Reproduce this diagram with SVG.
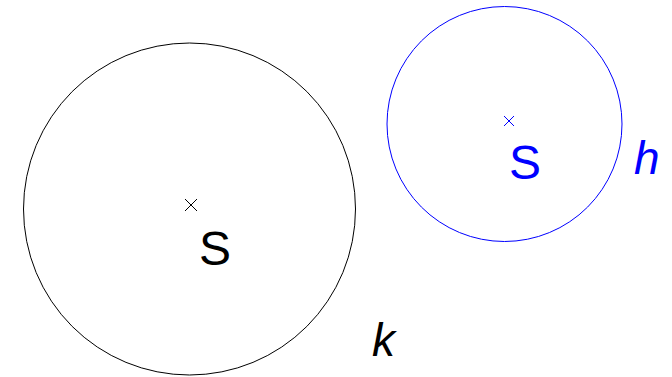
<svg xmlns="http://www.w3.org/2000/svg" width="672" height="377" viewBox="0 0 672 377">
<style>
.k{stroke:#000;fill:none;stroke-width:1}
.b{stroke:#0000ff;fill:none;stroke-width:1}
.t{font-family:"Liberation Sans",Arial,sans-serif;font-size:48px}
.i{font-family:"Liberation Sans",Arial,sans-serif;font-size:46px;font-style:italic}
</style>
<rect width="672" height="377" fill="#fff"/>
<g id="circle-k">
<circle class="k" cx="189.5" cy="209" r="166"/>
<path class="k" d="M185,199 L197,211 M197,199 L185,211"/>
<text class="t" x="199" y="265" fill="#000">S</text>
<text class="i" x="372" y="356" fill="#000">k</text>
</g>
<g id="circle-h">
<circle class="b" cx="504.5" cy="124" r="117.5"/>
<path class="b" d="M504,116 L514,126 M514,116 L504,126"/>
<text class="t" x="509" y="179" fill="#0000ff">S</text>
<text class="i" x="634" y="174" fill="#0000ff">h</text>
</g>
<g id="connectors"/>
</svg>
